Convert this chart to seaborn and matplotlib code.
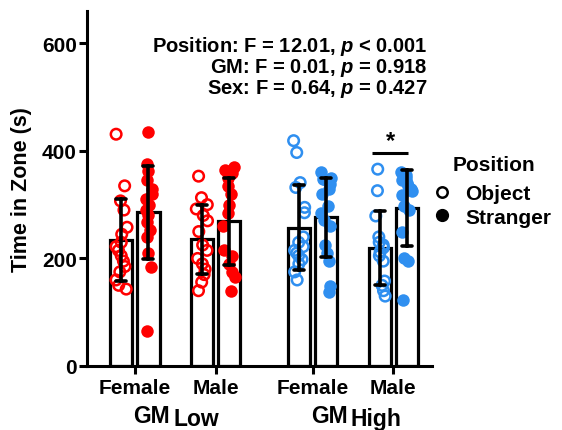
import numpy as np
import pandas as pd
import matplotlib
matplotlib.use("Agg")
import matplotlib.pyplot as plt
from matplotlib.lines import Line2D
import seaborn as sns

# ---------------- data ----------------
gm_groups = ["GMLow", "GMHigh"]
gm_subscripts = ["Low", "High"]
sexes = ["Female", "Male"]
positions = ["Object", "Stranger"]

low_female_object = [431, 335, 307, 290, 258, 245, 230, 222, 215, 205, 195, 185, 175, 160, 150, 143]
low_female_stranger = [435, 375, 362, 345, 330, 320, 310, 300, 290, 280, 268, 252, 240, 210, 185, 65]
low_male_object = [353, 313, 300, 292, 280, 270, 250, 225, 215, 200, 190, 180, 170, 156, 140]
low_male_stranger = [370, 365, 358, 350, 335, 320, 300, 285, 260, 215, 205, 190, 175, 165, 140]
high_female_object = [419, 397, 341, 332, 295, 285, 240, 230, 222, 215, 210, 205, 198, 190, 175, 160]
high_female_stranger = [360, 350, 347, 345, 338, 330, 320, 298, 285, 272, 260, 225, 210, 195, 148, 138]
high_male_object = [366, 326, 279, 240, 230, 225, 220, 212, 205, 195, 158, 150, 140, 130]
high_male_stranger = [360, 355, 350, 345, 340, 335, 330, 325, 318, 298, 290, 250, 200, 195, 122]

y_ticks = [0, 200, 400, 600]
stats_lines = [
    "Position: F = 12.01, $p$ < 0.001",
    "GM: F = 0.01, $p$ = 0.918",
    "Sex: F = 0.64, $p$ = 0.427",
]
group_colors = {"GMLow": "#FF0000", "GMHigh": "#2F8FF0"}

values = {
    ("GMLow", "Female", "Object"): low_female_object,
    ("GMLow", "Female", "Stranger"): low_female_stranger,
    ("GMLow", "Male", "Object"): low_male_object,
    ("GMLow", "Male", "Stranger"): low_male_stranger,
    ("GMHigh", "Female", "Object"): high_female_object,
    ("GMHigh", "Female", "Stranger"): high_female_stranger,
    ("GMHigh", "Male", "Object"): high_male_object,
    ("GMHigh", "Male", "Stranger"): high_male_stranger,
}

# ---------------- layout constants ----------------
GROUP_STEP = 2.2
BAR_WIDTH = 0.67

rows = []
for gi, g in enumerate(gm_groups):
    for si, s in enumerate(sexes):
        for p in positions:
            for v in values[(g, s, p)]:
                rows.append(dict(GM=g, Sex=s, Position=p, Time=v, x=gi * GROUP_STEP + si))
df = pd.DataFrame(rows)

# ---------------- style ----------------
sns.set_style("ticks")
plt.rcParams["font.family"] = ["Liberation Sans", "DejaVu Sans"]
plt.rcParams["font.weight"] = "bold"
plt.rcParams["axes.labelweight"] = "bold"
plt.rcParams["mathtext.fontset"] = "custom"
plt.rcParams["mathtext.it"] = "Liberation Sans:italic:bold"
plt.rcParams["mathtext.rm"] = "Liberation Sans:bold"
plt.rcParams["mathtext.bf"] = "Liberation Sans:bold"
for key in ["text.color", "axes.labelcolor", "xtick.color", "ytick.color", "axes.edgecolor"]:
    plt.rcParams[key] = "black"

fig, ax = plt.subplots(figsize=(5.62, 4.31), dpi=100)
fig.subplots_adjust(left=0.155, right=0.769, bottom=0.1485, top=0.972)

sns.barplot(
    data=df, x="x", y="Time", hue="Position", hue_order=positions,
    native_scale=True, errorbar="sd", width=BAR_WIDTH, gap=0.17,
    palette={"Object": "white", "Stranger": "white"},
    edgecolor="black", linewidth=2.3, capsize=0.25,
    err_kws={"color": "black", "linewidth": 2.6},
    legend=False, ax=ax,
)
err_lines = list(ax.lines)

np.random.seed(7)
for gi, g in enumerate(gm_groups):
    for pi, p in enumerate(positions):
        sub = df[(df.GM == g) & (df.Position == p)].copy()
        sub["xs"] = sub["x"] + (pi - 0.5) * BAR_WIDTH / 2
        n_before = len(ax.collections)
        sns.stripplot(
            data=sub, x="xs", y="Time", native_scale=True, jitter=0.075,
            color=group_colors[g], size=9.0 if p == "Stranger" else 7.6,
            linewidth=0, ax=ax,
        )
        for c in ax.collections[n_before:]:
            c.set_zorder(2)
            if p == "Object":
                c.set_facecolor("none")
                c.set_edgecolor(group_colors[g])
                c.set_linewidth(1.8)
for ln in err_lines:
    ln.set_zorder(4)
    ln.set_color("black")

# axes
ax.set_ylim(0, 660)
ax.set_xlim(-0.59, 3.68)
ax.set_yticks(y_ticks)
ax.set_yticklabels([str(t) for t in y_ticks], fontsize=15, fontweight="bold")
xt = [gi * GROUP_STEP + si for gi in range(len(gm_groups)) for si in range(len(sexes))]
ax.set_xticks(xt)
ax.set_xticklabels(sexes * len(gm_groups), fontsize=15, fontweight="bold")
ax.set_xlabel("")
ax.set_ylabel("Time in Zone (s)", fontsize=15.5, fontweight="bold", labelpad=7)
sns.despine(ax=ax)
for sp in ["left", "bottom"]:
    ax.spines[sp].set_linewidth(2.2)
ax.tick_params(axis="both", width=2.2, length=6, pad=1.5)
ax.tick_params(axis="x", pad=3)

# group labels GM_Low / GM_High
for gi, sub_txt in enumerate(gm_subscripts):
    center = gi * GROUP_STEP + 0.5
    ax.annotate("GM", xy=(center, 0), xycoords=("data", "axes fraction"),
                xytext=(-4, -40), textcoords="offset points", ha="right",
                va="baseline", fontsize=16.5, fontweight="bold", annotation_clip=False)
    ax.annotate(sub_txt, xy=(center, 0), xycoords=("data", "axes fraction"),
                xytext=(-1.5, -42.5), textcoords="offset points", ha="left",
                va="baseline", fontsize=16.5, fontweight="bold", annotation_clip=False)

# significance marker
mx = GROUP_STEP + 1
ax.plot([mx - 0.26, mx + 0.18], [396, 396], color="black", linewidth=2.2, solid_capstyle="butt")
ax.text(mx - 0.04, 398, "*", ha="center", va="bottom", fontsize=17, fontweight="bold")

# stats text
for i, line in enumerate(stats_lines):
    fig.text(0.760, 0.880 - i * 0.0485, line, ha="right", va="baseline",
             fontsize=14.5, fontweight="bold")

# legend
fig.text(453 / 562, 1 - 171 / 431, "Position", ha="left", va="baseline",
         fontsize=15, fontweight="bold")
handles = [
    Line2D([], [], marker="o", linestyle="none", markerfacecolor="none",
           markeredgecolor="black", markeredgewidth=1.8, markersize=7.5),
    Line2D([], [], marker="o", linestyle="none", markerfacecolor="black",
           markeredgecolor="black", markersize=8.5),
]
fig.legend(handles, positions, loc="upper left",
           bbox_to_anchor=(0.774, 1 - 185 / 431), frameon=False,
           prop={"weight": "bold", "size": 15},
           handlelength=0.7, handletextpad=0.75, labelspacing=0.22,
           borderpad=0, borderaxespad=0)

fig.savefig("out.png", dpi=100)
